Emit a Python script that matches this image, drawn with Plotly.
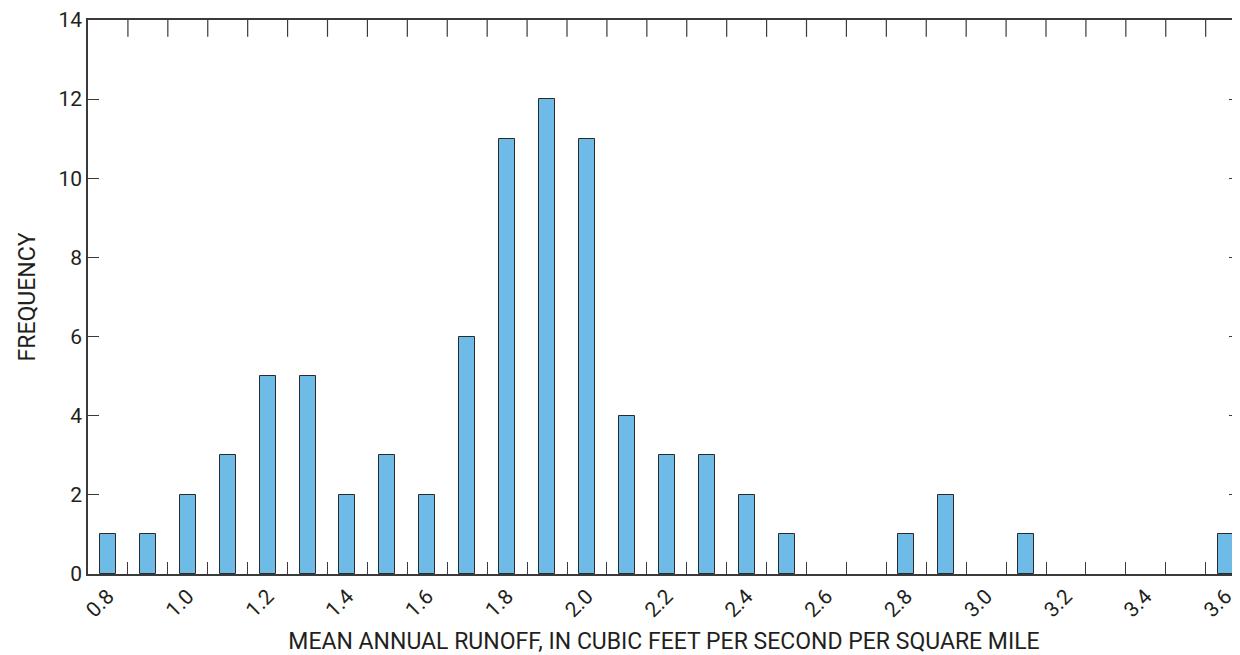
import plotly.graph_objects as go

runoff = [0.8, 0.9, 1.0, 1.1, 1.2, 1.3, 1.4, 1.5, 1.6, 1.7, 1.8, 1.9, 2.0, 2.1, 2.2,
          2.3, 2.4, 2.5, 2.6, 2.7, 2.8, 2.9, 3.0, 3.1, 3.2, 3.3, 3.4, 3.5, 3.6]
frequency = [1, 1, 2, 3, 5, 5, 2, 3, 2, 6, 11, 12, 11, 4, 3,
             3, 2, 1, 0, 0, 1, 2, 0, 1, 0, 0, 0, 0, 1]
x_tick_vals = [0.8, 1.0, 1.2, 1.4, 1.6, 1.8, 2.0, 2.2, 2.4, 2.6, 2.8, 3.0, 3.2, 3.4, 3.6]
x_tick_text = ["0.8", "1.0", "1.2", "1.4", "1.6", "1.8", "2.0", "2.2", "2.4", "2.6",
               "2.8", "3.0", "3.2", "3.4", "3.6"]
x_minor_vals = [round(0.85 + 0.1 * i, 2) for i in range(28)]
y_tick_vals = [0, 2, 4, 6, 8, 10, 12, 14]
y_max = 14

FONT = "Liberation Sans Narrow, Arial Narrow, Roboto, sans-serif"
INK = "#231f20"
AX = "#3a3a3a"

# zero-count bins get no outline so nothing is drawn for them
outline_w = [1 if f > 0 else 0 for f in frequency]

fig = go.Figure()
fig.add_trace(go.Bar(
    x=runoff, y=frequency, width=0.04,
    marker=dict(color="#6fbbe8", line=dict(color="#2b2b2b", width=outline_w)),
    showlegend=False,
))
# top inward tick marks (between-bin positions), clipped to the plot frame
fig.add_trace(go.Scatter(
    x=x_minor_vals, y=[y_max] * len(x_minor_vals), mode="markers", cliponaxis=True,
    marker=dict(symbol="line-ns", size=24, line=dict(color=AX, width=1.2)),
    showlegend=False, hoverinfo="skip",
))
# invisible trace for the right-side tick set
fig.add_trace(go.Scatter(x=[runoff[0]], y=[0], yaxis="y2", mode="markers",
                         marker=dict(opacity=0), showlegend=False, hoverinfo="skip"))

fig.update_layout(
    width=1232, height=647,
    margin=dict(l=80, r=0, t=12, b=81, autoexpand=False),
    paper_bgcolor="white", plot_bgcolor="white",
    font=dict(family=FONT, size=22, color=INK),
    bargap=0,
    xaxis=dict(
        range=[0.75, 3.636], automargin=False,
        tickvals=x_tick_vals, ticktext=x_tick_text, ticks="",
        tickangle=-45, tickfont=dict(size=21), ticklabeloverflow="allow",
        showline=True, linecolor=AX, linewidth=1.5, mirror=True,
        showgrid=False, zeroline=False,
        minor=dict(tickvals=x_minor_vals, ticks="inside", ticklen=12,
                   tickcolor=AX, tickwidth=1.2, showgrid=False),
        title=dict(text="MEAN ANNUAL RUNOFF, IN CUBIC FEET PER SECOND PER SQUARE MILE",
                   font=dict(size=23), standoff=20),
    ),
    yaxis=dict(
        range=[0, y_max], tickvals=y_tick_vals, ticks="inside", ticklen=11,
        tickcolor=AX, tickwidth=1.2, tickfont=dict(size=21), automargin=False,
        ticklabeloverflow="allow",
        showline=True, linecolor=AX, linewidth=1.5,
        showgrid=False, zeroline=False,
        title=dict(text="FREQUENCY", font=dict(size=23), standoff=16),
    ),
    yaxis2=dict(
        range=[0, y_max], tickvals=y_tick_vals, ticks="inside", ticklen=11,
        tickcolor=AX, tickwidth=1.2, showticklabels=False, automargin=False,
        overlaying="y", side="right",
        showline=False, showgrid=False, zeroline=False,
    ),
)

fig.write_html("out.html")
